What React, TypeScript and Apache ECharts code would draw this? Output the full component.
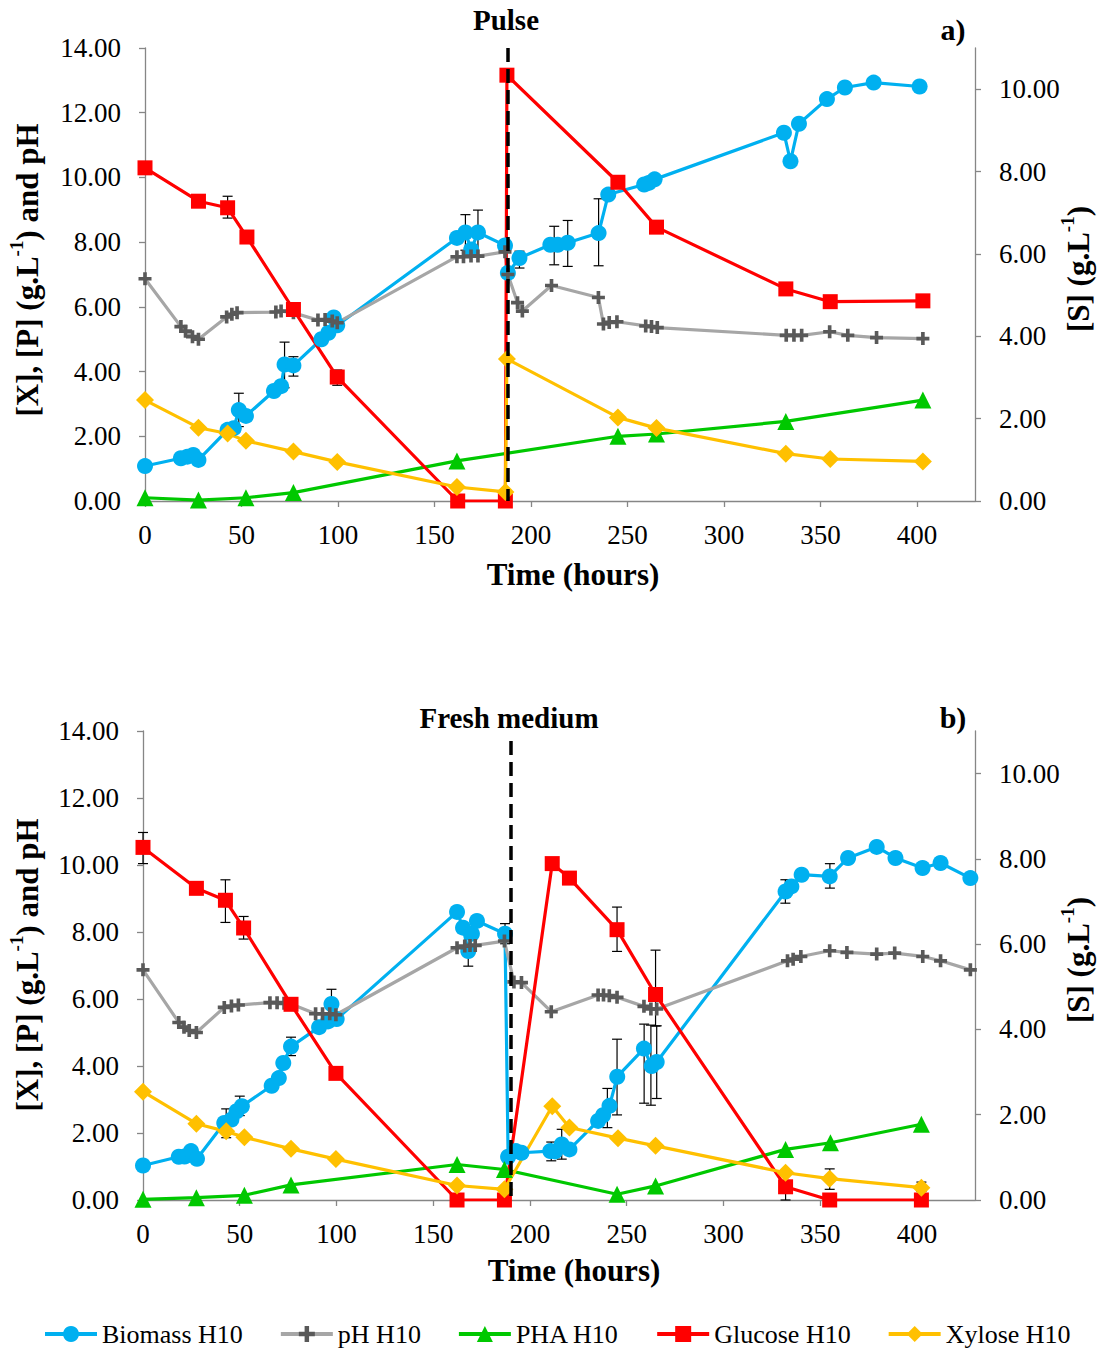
import React, { useEffect, useRef } from "react";
import * as echarts from "echarts";

const FONT = '"Liberation Serif", "Times New Roman", Times, serif';
const AXIS_COLOR = "#868686";

const xTicks = [0, 50, 100, 150, 200, 250, 300, 350, 400];
const leftTicks = [0, 2, 4, 6, 8, 10, 12, 14];
const rightTicks = [0, 2, 4, 6, 8, 10];
const seriesNames = ["Biomass H10", "pH H10", "PHA H10", "Glucose H10", "Xylose H10"];

// ---- a) Pulse ----
const aBiomass = [[0,1.08],[18.6,1.32],[22,1.37],[25,1.42],[27.7,1.27],[42.8,2.2],[46,2.25],[48.6,2.81],[52.3,2.63],[66.8,3.40],[70.5,3.55],[72.3,4.22],[76.9,4.19],[91.4,5.0],[95,5.2],[97.8,5.67],[99.6,5.43],[161.6,8.13],[166,8.3],[169,7.77],[172.5,8.3],[186.5,7.9],[188,7.05],[194,7.51],[210,7.92],[213.8,7.92],[219,7.98],[235,8.28],[240,9.47],[258.6,9.78],[261,9.83],[264,9.94],[331,11.38],[334.4,10.5],[338.8,11.66],[353.3,12.42],[362.6,12.78],[377.5,12.93],[401.3,12.81]];
const aPH = [[0,6.87],[18.6,5.39],[21,5.25],[24.6,5.08],[27.7,5.0],[42.3,5.69],[45,5.77],[47.7,5.82],[67.8,5.84],[70.5,5.87],[76.9,5.82],[89.6,5.59],[93.3,5.61],[97,5.56],[99.6,5.51],[161.6,7.55],[165,7.55],[168.9,7.57],[172.5,7.57],[186.5,7.7],[188,7.0],[193,6.13],[195.5,5.87],[210.6,6.66],[234.9,6.29],[237.5,5.47],[240.5,5.52],[244.5,5.54],[259.4,5.41],[262.4,5.39],[265.4,5.36],[332.2,5.12],[336.2,5.12],[340.2,5.12],[354.7,5.23],[364.1,5.12],[379,5.05],[403,5.02]];
const aPHA = [[0,0.10],[27.7,0.03],[52.3,0.10],[76.9,0.26],[161.6,1.24],[245,2.0],[265,2.07],[332,2.46],[403,3.12]];
const aGlucose = [[0,8.09],[27.7,7.28],[42.8,7.12],[52.8,6.41],[76.9,4.65],[99.6,3.01],[162,0],[186.7,0],[187.5,10.34],[245,7.74],[265,6.65],[332,5.15],[355,4.84],[403,4.86]];
const aXylose = [[0,2.45],[27.7,1.78],[42.8,1.64],[52.3,1.46],[76.9,1.20],[99.6,0.95],[161.6,0.34],[186.7,0.22],[187.5,3.45],[245,2.03],[265,1.77],[332,1.15],[355,1.02],[403,0.96]];
const aErrLeft = [[48.6,2.3,3.33],[72.3,3.50,4.91],[76.9,3.86,4.46],[166,7.75,8.85],[172.5,7.6,8.99],[194,7.2,7.72],[212,7.3,8.49],[219,7.25,8.67],[235,7.27,9.34]];
const aErrRight = [[42.8,6.87,7.40],[99.6,2.81,3.18]];
const aPulse = 188;

// ---- b) Fresh medium ----
const bBiomass = [[0,1.03],[18.5,1.29],[21.5,1.3],[24.8,1.46],[27.9,1.23],[42,2.30],[45.7,2.40],[48.4,2.65],[51.1,2.80],[66.5,3.41],[70.2,3.64],[72.5,4.09],[76.5,4.58],[91,5.16],[95.6,5.33],[97.4,5.85],[100.1,5.40],[162.3,8.60],[165.4,8.13],[168.1,7.43],[170,7.95],[172.6,8.33],[187.1,7.95],[188.7,1.29],[192.7,1.46],[195.6,1.41],[210.5,1.46],[213,1.45],[216.4,1.66],[220.4,1.51],[235.2,2.36],[237.8,2.53],[241.1,2.81],[245.1,3.68],[258.9,4.52],[262.9,4.0],[265.5,4.12],[332.1,9.21],[335.1,9.36],[340.4,9.71],[354.9,9.66],[364.4,10.21],[379.2,10.54],[388.9,10.21],[402.9,9.91],[412.2,10.06],[427.6,9.61]];
const bPH = [[0,6.87],[18.5,5.30],[21.2,5.16],[23.9,5.06],[27.6,5.0],[42,5.75],[45.7,5.79],[49.3,5.82],[65.6,5.89],[69.3,5.89],[72.9,5.87],[76.5,5.85],[89.2,5.56],[92.8,5.56],[96.5,5.56],[99.7,5.53],[162.3,7.53],[166.3,7.58],[169,7.60],[171.7,7.60],[186.8,7.73],[191.7,6.51],[195.6,6.49],[211,5.62],[235.2,6.12],[238,6.12],[241,6.10],[245,6.05],[258.9,5.78],[262.5,5.70],[265.5,5.70],[333.1,7.14],[336,7.19],[340,7.27],[354.9,7.44],[363.8,7.39],[379.2,7.34],[388.5,7.37],[403,7.27],[412.2,7.14],[427.6,6.87]];
const bPHA = [[0,0.02],[27.6,0.07],[52.4,0.14],[76.5,0.45],[162.3,1.06],[186.8,0.91],[245,0.17],[264.9,0.42],[332.1,1.51],[355.3,1.71],[402.3,2.26]];
const bGlucose = [[0,8.27],[27.6,7.31],[42.6,7.03],[52,6.38],[76.5,4.59],[99.7,2.97],[162.3,0],[186.8,0],[211.5,7.89],[220.4,7.55],[245,6.34],[264.9,4.82],[332.1,0.31],[354.9,0],[402.3,0]];
const bXylose = [[0,2.54],[27.6,1.79],[43,1.61],[52.4,1.47],[76.5,1.20],[99.7,0.96],[162.3,0.34],[186.8,0.25],[211.5,2.20],[220.4,1.70],[245.5,1.45],[264.9,1.27],[332.1,0.64],[354.9,0.50],[402.3,0.29]];
const bErrLeft = [[43,1.86,2.72],[50,2.52,3.10],[76.5,4.31,4.86],[97.4,5.4,6.29],[168.1,6.98,7.43],[187.1,7.65,8.25],[211,1.17,1.73],[216.4,1.22,2.11],[240,2.16,3.33],[245,2.54,4.80],[259,2.89,5.25],[262.5,2.83,5.22],[265.5,3.03,5.2],[332,8.86,9.56],[355,9.31,10.04]];
const bErrRight = [[0,7.89,8.62],[42.6,6.51,7.51],[52,6.12,6.65],[245,5.83,6.87],[264.9,4.08,5.86],[332.1,0,0.62],[354.9,0.25,0.73],[402.3,0.2,0.42]];
const bFresh = 190;

const COLORS = {
  biomass: "#00B0F0",
  phLine: "#A6A6A6",
  phMark: "#595959",
  pha: "#00C800",
  glucose: "#FF0000",
  xylose: "#FFC000",
};

const PLUS = "path://M3.6,0H6.4V3.6H10V6.4H6.4V10H3.6V6.4H0V3.6H3.6Z";

function errRender(params: any, api: any) {
  const x = api.value(0);
  const lo = api.value(1);
  const hi = api.value(2);
  const pLo = api.coord([x, lo]);
  const pHi = api.coord([x, hi]);
  const w = 5;
  const style = { stroke: "#000", lineWidth: 1.2 };
  return {
    type: "group",
    children: [
      { type: "line", shape: { x1: pLo[0], y1: pLo[1], x2: pHi[0], y2: pHi[1] }, style },
      { type: "line", shape: { x1: pLo[0] - w, y1: pLo[1], x2: pLo[0] + w, y2: pLo[1] }, style },
      { type: "line", shape: { x1: pHi[0] - w, y1: pHi[1], x2: pHi[0] + w, y2: pHi[1] }, style },
    ],
  };
}

function xAxisOpt(gridIndex: number) {
  return {
    type: "value",
    gridIndex,
    min: 0,
    max: 430,
    interval: 50,
    axisLine: { show: true, onZero: false, lineStyle: { color: AXIS_COLOR, width: 1.3 } },
    axisTick: { show: true, length: 6, customValues: xTicks, lineStyle: { color: AXIS_COLOR, width: 1.3 } },
    axisLabel: { color: "#000", fontFamily: FONT, fontSize: 27, margin: 20, customValues: xTicks },
    splitLine: { show: false },
  };
}

function leftAxisOpt(gridIndex: number) {
  return {
    type: "value",
    gridIndex,
    position: "left",
    min: 0,
    max: 14,
    interval: 2,
    axisLine: { show: true, lineStyle: { color: AXIS_COLOR, width: 1.3 } },
    axisTick: { show: true, length: 6, customValues: leftTicks, lineStyle: { color: AXIS_COLOR, width: 1.3 } },
    axisLabel: {
      color: "#000", fontFamily: FONT, fontSize: 27, margin: 24, customValues: leftTicks,
      formatter: (v: number) => v.toFixed(2),
    },
    splitLine: { show: false },
  };
}

function rightAxisOpt(gridIndex: number) {
  return {
    type: "value",
    gridIndex,
    position: "right",
    min: 0,
    max: 11,
    interval: 1,
    axisLine: { show: true, lineStyle: { color: AXIS_COLOR, width: 1.3 } },
    axisTick: { show: true, length: 6, customValues: rightTicks, lineStyle: { color: AXIS_COLOR, width: 1.3 } },
    axisLabel: {
      color: "#000", fontFamily: FONT, fontSize: 27, margin: 24, customValues: rightTicks,
      formatter: (v: number) => v.toFixed(2),
    },
    splitLine: { show: false },
  };
}

function chartSeries(
  xi: number, yl: number, yr: number,
  biomass: number[][], ph: number[][], pha: number[][], glucose: number[][], xylose: number[][],
  errL: number[][], errR: number[][], marker: number, markTop: number
) {
  return [
    { type: "custom", xAxisIndex: xi, yAxisIndex: yl, data: errL, renderItem: errRender, encode: { x: 0, y: [1, 2] }, silent: true, z: 1 },
    { type: "custom", xAxisIndex: xi, yAxisIndex: yr, data: errR, renderItem: errRender, encode: { x: 0, y: [1, 2] }, silent: true, z: 1 },
    {
      name: seriesNames[0], type: "line", xAxisIndex: xi, yAxisIndex: yl, data: biomass,
      symbol: "circle", symbolSize: 16, showAllSymbol: true,
      lineStyle: { color: COLORS.biomass, width: 3.2 }, itemStyle: { color: COLORS.biomass },
    },
    {
      name: seriesNames[1], type: "line", xAxisIndex: xi, yAxisIndex: yl, data: ph,
      symbol: PLUS, symbolSize: 13, showAllSymbol: true,
      lineStyle: { color: COLORS.phLine, width: 3.2 }, itemStyle: { color: COLORS.phMark },
    },
    {
      name: seriesNames[2], type: "line", xAxisIndex: xi, yAxisIndex: yl, data: pha,
      symbol: "triangle", symbolSize: 17, showAllSymbol: true,
      lineStyle: { color: COLORS.pha, width: 3.2 }, itemStyle: { color: COLORS.pha },
      markLine: {
        silent: true, symbol: ["none", "none"], label: { show: false },
        lineStyle: { color: "#000", type: [14, 7], width: 3.5 },
        data: [[{ coord: [marker, markTop] }, { coord: [marker, 0] }]],
      },
    },
    {
      name: seriesNames[3], type: "line", xAxisIndex: xi, yAxisIndex: yr, data: glucose,
      symbol: "rect", symbolSize: 15, showAllSymbol: true,
      lineStyle: { color: COLORS.glucose, width: 3.2 }, itemStyle: { color: COLORS.glucose },
    },
    {
      name: seriesNames[4], type: "line", xAxisIndex: xi, yAxisIndex: yr, data: xylose,
      symbol: "diamond", symbolSize: 18, showAllSymbol: true,
      lineStyle: { color: COLORS.xylose, width: 3.2 }, itemStyle: { color: COLORS.xylose },
    },
  ];
}

function vText(x: number, y: number, main: string, after: string) {
  return {
    type: "text",
    x, y,
    rotation: Math.PI / 2,
    style: {
      text: `{n|${main}}{s|-1}{n|${after}}`,
      align: "center", verticalAlign: "middle",
      textAlign: "center", textVerticalAlign: "middle",
      fill: "#000",
      rich: {
        n: { fontFamily: FONT, fontWeight: "bold", fontSize: 31, lineHeight: 40, fill: "#000" },
        s: { fontFamily: FONT, fontWeight: "bold", fontSize: 19, lineHeight: 19, verticalAlign: "top", fill: "#000" },
      },
    },
  };
}

function hText(x: number, y: number, text: string, size: number) {
  return {
    type: "text",
    x, y,
    style: {
      text,
      align: "center", verticalAlign: "middle",
      textAlign: "center", textVerticalAlign: "middle",
      fill: "#000",
      fontFamily: FONT, fontWeight: "bold", fontSize: size,
    },
  };
}

export default function App() {
  const ref = useRef<HTMLDivElement>(null);
  useEffect(() => {
    document.body.style.margin = "0";
    if (!ref.current) return;
    const chart = echarts.init(ref.current, undefined, { renderer: "svg" });
    chart.setOption({
      animation: false,
      backgroundColor: "#fff",
      grid: [
        { left: 145, width: 830, top: 48, height: 453 },
        { left: 143, width: 832, top: 731, height: 469 },
      ],
      xAxis: [xAxisOpt(0), xAxisOpt(1)],
      yAxis: [leftAxisOpt(0), rightAxisOpt(0), leftAxisOpt(1), rightAxisOpt(1)],
      legend: {
        data: seriesNames,
        left: 38,
        top: 1316,
        width: 1060,
        itemWidth: 52,
        itemHeight: 20,
        itemGap: 36,
        lineStyle: { width: 4 },
        textStyle: { fontFamily: FONT, fontSize: 26, lineHeight: 26, color: "#000" },
      },
      series: [
        ...chartSeries(0, 0, 1, aBiomass, aPH, aPHA, aGlucose, aXylose, aErrLeft, aErrRight, aPulse, 14),
        ...chartSeries(1, 2, 3, bBiomass, bPH, bPHA, bGlucose, bXylose, bErrLeft, bErrRight, bFresh, 13.7),
      ],
      graphic: [
        vText(27, 270, "[X], [P] (g.L", ") and pH"),
        vText(1078, 269, "[S] (g.L", ")"),
        vText(27, 965, "[X], [P] (g.L", ") and pH"),
        vText(1078, 960, "[S] (g.L", ")"),
        hText(506, 20, "Pulse", 29),
        hText(953, 29, "a)", 30),
        hText(509, 718, "Fresh medium", 29),
        hText(953, 717, "b)", 30),
        hText(573, 574, "Time (hours)", 31),
        hText(574, 1270, "Time (hours)", 31),
      ],
    });
    return () => chart.dispose();
  }, []);
  return <div ref={ref} style={{ width: 1100, height: 1353 }} />;
}
